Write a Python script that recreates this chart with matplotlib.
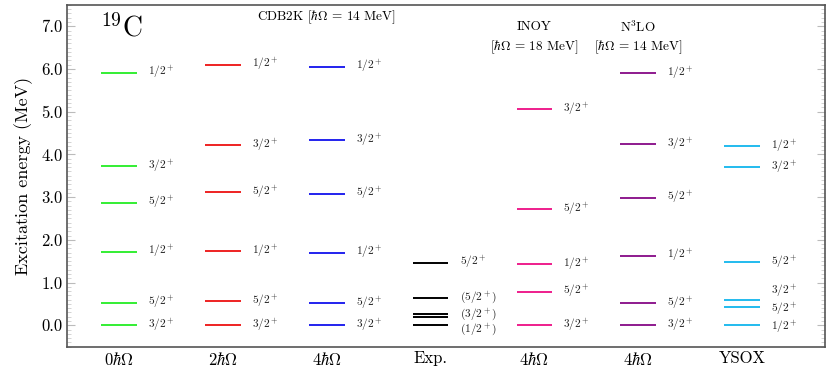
import matplotlib
matplotlib.use("Agg")
import matplotlib.pyplot as plt
from matplotlib.ticker import MultipleLocator

plt.rcParams["font.family"] = "serif"
plt.rcParams["font.serif"] = ["cmr10"]
plt.rcParams["mathtext.fontset"] = "cm"
plt.rcParams["axes.formatter.use_mathtext"] = True

# columns
columns = [r"$0\hbar\Omega$", r"$2\hbar\Omega$", r"$4\hbar\Omega$", "Exp.",
           r"$4\hbar\Omega$", r"$4\hbar\Omega$", "YSOX"]
colors = ["#33ee33", "#ee2222", "#2222ee", "black", "#ee1e8c", "#8e1a8e", "#22bbee"]

# level energies (MeV) and spin labels, per column
e_0hw = [0.0, 0.53, 1.72, 2.87, 3.72, 5.91]
j_0hw = ["3/2^+", "5/2^+", "1/2^+", "5/2^+", "3/2^+", "1/2^+"]
e_2hw = [0.0, 0.56, 1.74, 3.11, 4.22, 6.10]
j_2hw = ["3/2^+", "5/2^+", "1/2^+", "5/2^+", "3/2^+", "1/2^+"]
e_4hw = [0.0, 0.52, 1.70, 3.08, 4.33, 6.05]
j_4hw = ["3/2^+", "5/2^+", "1/2^+", "5/2^+", "3/2^+", "1/2^+"]
e_exp = [0.0, 0.20, 0.27, 0.65, 1.46]
j_exp = ["(1/2^+)", None, "(3/2^+)", "(5/2^+)", "5/2^+"]
e_inoy = [0.0, 0.79, 1.43, 2.72, 5.06]
j_inoy = ["3/2^+", "5/2^+", "1/2^+", "5/2^+", "3/2^+"]
e_n3lo = [0.0, 0.52, 1.63, 2.99, 4.24, 5.90]
j_n3lo = ["3/2^+", "5/2^+", "1/2^+", "5/2^+", "3/2^+", "1/2^+"]
e_ysox = [0.0, 0.42, 0.59, 1.48, 3.70, 4.19]
j_ysox = ["1/2^+", "5/2^+", "3/2^+", "5/2^+", "3/2^+", "1/2^+"]

energies = [e_0hw, e_2hw, e_4hw, e_exp, e_inoy, e_n3lo, e_ysox]
spins = [j_0hw, j_2hw, j_4hw, j_exp, j_inoy, j_n3lo, j_ysox]

# label offsets where labels would overlap
label_shift = {(3, 0): -0.11, (3, 2): -0.02, (6, 0): -0.06, (6, 1): -0.05, (6, 2): 0.20}

fig, ax = plt.subplots(figsize=(8.3, 3.78), dpi=100)
fig.subplots_adjust(left=0.081, right=0.994, top=0.987, bottom=0.083)

half = 0.172
for i, (es, js) in enumerate(zip(energies, spins)):
    for k, (e, j) in enumerate(zip(es, js)):
        ax.plot([i - half, i + half], [e, e], color=colors[i], lw=1.4,
                solid_capstyle="butt")
        if j is not None:
            ax.text(i + 0.28, e + label_shift.get((i, k), 0.0), "$" + j + "$",
                    fontsize=8.2, va="center", ha="left", color="#222222")

ax.set_xlim(-0.5, 6.8)
ax.set_ylim(-0.5, 7.5)
ax.set_xticks(range(len(columns)))
ax.set_xticklabels(columns, fontsize=12)
ax.tick_params(axis="x", length=0, pad=3)
ax.yaxis.set_major_locator(MultipleLocator(1.0))
ax.yaxis.set_minor_locator(MultipleLocator(0.1))
ax.yaxis.set_major_formatter(matplotlib.ticker.FormatStrFormatter("%.1f"))
ax.tick_params(axis="y", which="major", direction="in", length=6, width=0.8,
               color="#bbbbbb", labelsize=12, right=True)
ax.tick_params(axis="y", which="minor", direction="in", length=3, width=0.6,
               color="#cccccc", right=True)
for s in ax.spines.values():
    s.set_color("#555555")
    s.set_linewidth(1.2)
ax.set_ylabel("Excitation energy (MeV)", fontsize=13, labelpad=6)

ax.text(0.02, 6.95, r"$^{19}$C", fontsize=20, va="center", ha="center")
ax.text(2.0, 7.2, r"CDB2K [$\hbar\Omega$ = 14 MeV]", fontsize=9.5, ha="center", va="center")
ax.text(4.0, 6.98, "INOY", fontsize=9.5, ha="center", va="center")
ax.text(4.0, 6.5, r"[$\hbar\Omega$ = 18 MeV]", fontsize=9.5, ha="center", va="center")
ax.text(5.0, 6.98, r"N$^3$LO", fontsize=9.5, ha="center", va="center")
ax.text(5.0, 6.5, r"[$\hbar\Omega$ = 14 MeV]", fontsize=9.5, ha="center", va="center")

fig.savefig("out.png", dpi=100)
